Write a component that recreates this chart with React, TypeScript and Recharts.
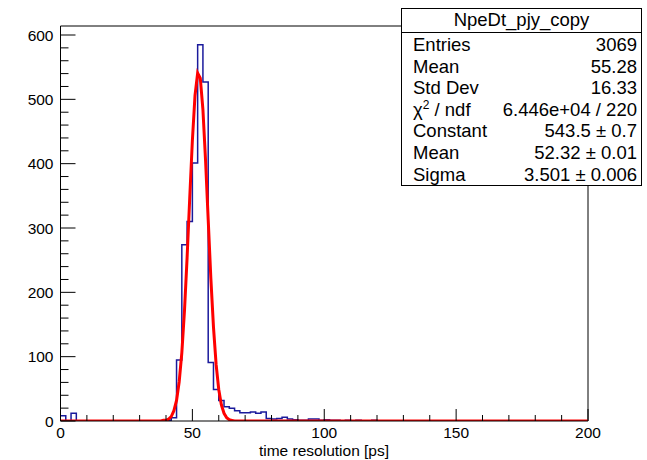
import React from "react";
import { ComposedChart, Line, XAxis, YAxis, ReferenceLine } from "recharts";

// histogram: 100 bins of width 2 on [0, 200]
const binWidth = 2;
const counts = [
  8, 0, 12, 0, 0, 0, 0, 0, 0, 0,
  0, 0, 0, 0, 0, 0, 0, 0, 0, 0,
  1, 5, 95, 274, 310, 401, 585, 527, 91, 49,
  32, 22, 20, 16, 13, 13, 14, 12, 14, 4,
  3, 4, 6, 3, 2, 1, 1, 3, 3, 1,
  2, 1, 1, 0, 1, 0, 1, 0, 0, 1,
  0, 0, 0, 0, 0, 0, 0, 0, 0, 0,
  0, 0, 0, 0, 0, 0, 0, 0, 0, 0,
  0, 0, 0, 0, 0, 0, 0, 0, 0, 0,
  0, 0, 0, 0, 0, 0, 0, 0, 0, 0,
];

// gaus fit curve
const fitX = [0, 38, 39, 40, 41, 42, 43, 44, 45, 46, 47, 48, 49, 50, 51, 52, 53, 54, 55, 56, 57, 58, 59, 60, 61, 62, 63, 64, 65, 66, 67, 200];
const fitY = [0, 0, 1, 1, 3, 7, 16, 32, 61, 106, 171, 254, 347, 436, 506, 541, 533, 484, 405, 313, 222, 146, 88, 49, 25, 12, 5, 2, 1, 0, 0, 0];

const xTicks = [0, 10, 20, 30, 40, 50, 60, 70, 80, 90, 100, 110, 120, 130, 140, 150, 160, 170, 180, 190, 200];
const yTicks = [0, 20, 40, 60, 80, 100, 120, 140, 160, 180, 200, 220, 240, 260, 280, 300, 320, 340, 360, 380, 400, 420, 440, 460, 480, 500, 520, 540, 560, 580, 600];
const yMax = 614;

const statsTitle = "NpeDt_pjy_copy";
const statsLabels = ["Entries", "Mean", "Std Dev", "chi2", "Constant", "Mean", "Sigma"];
const statsValues = ["3069", "55.28", "16.33", "6.446e+04 / 220", "543.5 \u00b1 0.7", "52.32 \u00b1 0.01", "3.501 \u00b1 0.006"];

const FONT = "'Liberation Sans', Arial, Helvetica, sans-serif";

type Row = { x: number; count?: number; fit?: number };

const rowMap = new Map<number, Row>();
counts.forEach((c, i) => rowMap.set(i * binWidth, { x: i * binWidth, count: c }));
rowMap.set(counts.length * binWidth, { x: counts.length * binWidth, count: counts[counts.length - 1] });
fitX.forEach((x, i) => {
  const r = rowMap.get(x) ?? { x };
  r.fit = fitY[i];
  rowMap.set(x, r);
});
const data = [...rowMap.values()].sort((a, b) => a.x - b.x);

const XTick = (props: any) => {
  const { x, y, payload } = props;
  const v = payload.value;
  const major = v % 50 === 0;
  return (
    <g>
      <line x1={x} x2={x} y1={y} y2={y - (major ? 12 : 6)} stroke="#000" strokeWidth={1} />
      {major && (
        <text x={x} y={y + 17} textAnchor="middle" fontSize={15.5} fontFamily={FONT} fill="#000">
          {v}
        </text>
      )}
    </g>
  );
};

const YTick = (props: any) => {
  const { x, y, payload } = props;
  const v = payload.value;
  const major = v % 100 === 0;
  return (
    <g>
      <line x1={x} x2={x + (major ? 15 : 8)} y1={y} y2={y} stroke="#000" strokeWidth={1} />
      {major && (
        <text x={x - 7} y={y} dy="0.36em" textAnchor="end" fontSize={15.5} fontFamily={FONT} fill="#000">
          {v}
        </text>
      )}
    </g>
  );
};

const StatsBox = () => (
  <div
    style={{
      position: "absolute",
      left: 401,
      top: 8,
      width: 239,
      height: 176,
      border: "1px solid #000",
      background: "#fff",
      fontFamily: FONT,
      fontSize: 18.5,
      color: "#000",
    }}
  >
    <div style={{ height: 23, lineHeight: "22px", textAlign: "center", borderBottom: "1px solid #000" }}>
      {statsTitle}
    </div>
    <div style={{ padding: "1px 4px 0 11px" }}>
      {statsLabels.map((label, i) => (
        <div key={i} style={{ display: "flex", justifyContent: "space-between", height: 21.6, lineHeight: "21.6px" }}>
          <span>
            {label === "chi2" ? (
              <>
                {"\u03c7"}
                <sup style={{ fontSize: 12, verticalAlign: "7px", lineHeight: 0 }}>2</sup>
                {" / ndf"}
              </>
            ) : (
              label
            )}
          </span>
          <span>{statsValues[i]}</span>
        </div>
      ))}
    </div>
  </div>
);

export default function App() {
  return (
    <div style={{ position: "absolute", left: 0, top: 0, width: 647, height: 460, background: "#fff" }}>
      <ComposedChart width={647} height={460} data={data} margin={{ top: 26, right: 59, bottom: 0, left: 0 }}>
        <XAxis
          dataKey="x"
          type="number"
          domain={[0, 200]}
          ticks={xTicks}
          interval={0}
          height={39}
          tickSize={0}
          tickMargin={0}
          tickLine={false}
          tick={<XTick />}
          axisLine={{ stroke: "#000" }}
        />
        <YAxis
          type="number"
          domain={[0, yMax]}
          allowDataOverflow
          ticks={yTicks}
          interval={0}
          width={60.5}
          tickSize={0}
          tickMargin={0}
          tickLine={false}
          tick={<YTick />}
          axisLine={{ stroke: "#000" }}
        />
        <ReferenceLine y={yMax} stroke="#000" />
        <ReferenceLine x={200} stroke="#000" />
        <Line
          dataKey="count"
          type="stepAfter"
          stroke="#1a1a9c"
          strokeWidth={1.5}
          dot={false}
          activeDot={false}
          connectNulls
          isAnimationActive={false}
        />
        <Line
          dataKey="fit"
          type="linear"
          stroke="#ff0000"
          strokeWidth={3}
          dot={false}
          activeDot={false}
          connectNulls
          isAnimationActive={false}
        />
      </ComposedChart>
      <div
        style={{
          position: "absolute",
          left: 324,
          top: 442,
          transform: "translateX(-50%)",
          fontFamily: FONT,
          fontSize: 15.5,
          whiteSpace: "nowrap",
          color: "#000",
        }}
      >
        time resolution [ps]
      </div>
      <StatsBox />
    </div>
  );
}
